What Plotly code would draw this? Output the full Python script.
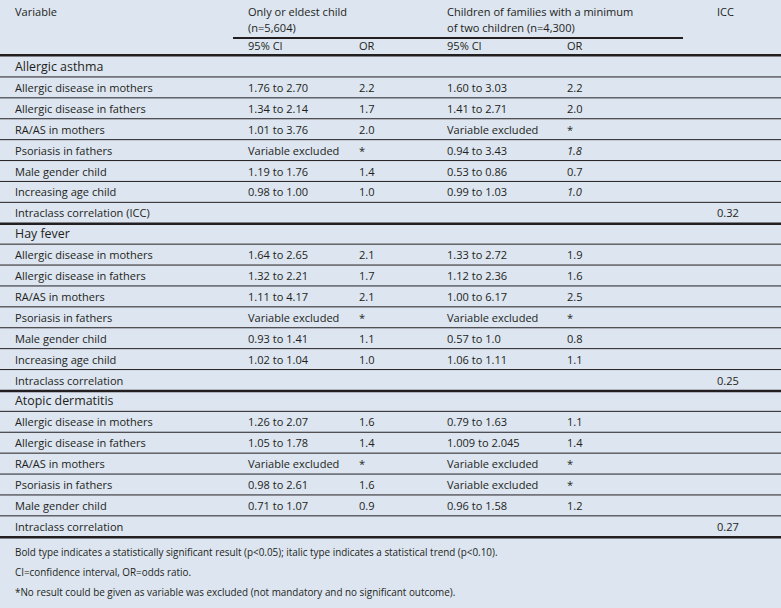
import plotly.graph_objects as go

# ---------------- data ----------------
section_titles = ["Allergic asthma", "Hay fever", "Atopic dermatitis"]

asthma_vars = ["Allergic disease in mothers", "Allergic disease in fathers", "RA/AS in mothers",
               "Psoriasis in fathers", "Male gender child", "Increasing age child"]
asthma_ci1 = ["1.76 to 2.70", "1.34 to 2.14", "1.01 to 3.76", "Variable excluded", "1.19 to 1.76", "0.98 to 1.00"]
asthma_or1 = ["2.2", "1.7", "2.0", "*", "1.4", "1.0"]
asthma_ci2 = ["1.60 to 3.03", "1.41 to 2.71", "Variable excluded", "0.94 to 3.43", "0.53 to 0.86", "0.99 to 1.03"]
asthma_or2 = ["2.2", "2.0", "*", "<i>1.8</i>", "0.7", "<i>1.0</i>"]
asthma_icc_label = "Intraclass correlation (ICC)"
asthma_icc = "0.32"

hay_vars = ["Allergic disease in mothers", "Allergic disease in fathers", "RA/AS in mothers",
            "Psoriasis in fathers", "Male gender child", "Increasing age child"]
hay_ci1 = ["1.64 to 2.65", "1.32 to 2.21", "1.11 to 4.17", "Variable excluded", "0.93 to 1.41", "1.02 to 1.04"]
hay_or1 = ["2.1", "1.7", "2.1", "*", "1.1", "1.0"]
hay_ci2 = ["1.33 to 2.72", "1.12 to 2.36", "1.00 to 6.17", "Variable excluded", "0.57 to 1.0", "1.06 to 1.11"]
hay_or2 = ["1.9", "1.6", "2.5", "*", "0.8", "1.1"]
hay_icc_label = "Intraclass correlation"
hay_icc = "0.25"

ad_vars = ["Allergic disease in mothers", "Allergic disease in fathers", "RA/AS in mothers",
           "Psoriasis in fathers", "Male gender child"]
ad_ci1 = ["1.26 to 2.07", "1.05 to 1.78", "Variable excluded", "0.98 to 2.61", "0.71 to 1.07"]
ad_or1 = ["1.6", "1.4", "*", "1.6", "0.9"]
ad_ci2 = ["0.79 to 1.63", "1.009 to 2.045", "Variable excluded", "Variable excluded", "0.96 to 1.58"]
ad_or2 = ["1.1", "1.4", "*", "*", "1.2"]
ad_icc_label = "Intraclass correlation"
ad_icc = "0.27"

header_variable = "Variable"
header_group1 = ["Only or eldest child", "(n=5,604)"]
header_group2 = ["Children of families with a minimum", "of two children (n=4,300)"]
header_icc = "ICC"
sub_ci = "95% CI"
sub_or = "OR"

footnotes = [
    "Bold type indicates a statistically significant result (p<0.05); italic type indicates a statistical trend (p<0.10).",
    "CI=confidence interval, OR=odds ratio.",
    "*No result could be given as variable was excluded (not mandatory and no significant outcome).",
]

# ---------------- styling / layout ----------------
W, H = 781, 608
BG = "#dce5f0"
INK = "#231f20"
FONT = "Open Sans"
FS = 11.05
FS_SEC = 12.4
FS_FOOT = 9.9

X_VAR, X_CI1, X_OR1, X_CI2, X_OR2, X_ICC = 13, 246, 357, 445, 565, 715
ROW0, ROWH = 66.5, 20.9

sections = [
    (section_titles[0], asthma_vars, asthma_ci1, asthma_or1, asthma_ci2, asthma_or2, asthma_icc_label, asthma_icc),
    (section_titles[1], hay_vars, hay_ci1, hay_or1, hay_ci2, hay_or2, hay_icc_label, hay_icc),
    (section_titles[2], ad_vars, ad_ci1, ad_or1, ad_ci2, ad_or2, ad_icc_label, ad_icc),
]

annotations = []
shapes = []


def txt(x, y, s, size=FS, color=INK):
    annotations.append(dict(x=x, y=y, xref="x", yref="y", text=s, showarrow=False,
                            xanchor="left", yanchor="middle",
                            font=dict(family=FONT, size=size, color=color)))


def hline(y, x0=0, x1=W, width=1.0):
    shapes.append(dict(type="line", xref="x", yref="y", x0=x0, x1=x1, y0=y, y1=y,
                       line=dict(color=INK, width=width)))


# header
txt(X_VAR, 11, header_variable)
txt(X_CI1, 11, header_group1[0])
txt(X_CI1, 27.5, header_group1[1])
txt(X_CI2, 11, header_group2[0])
txt(X_CI2, 27.5, header_group2[1])
txt(X_ICC, 11, header_icc)
hline(38, 233, 683, 2.2)
for x, s in [(X_CI1, sub_ci), (X_OR1, sub_or), (X_CI2, sub_ci), (X_OR2, sub_or)]:
    txt(x, 45.5, s)
hline(ROW0 - ROWH / 2 - 0.8, width=2.6)

row = 0
for title, vars_, ci1, or1, ci2, or2, icc_label, icc in sections:
    y = ROW0 + row * ROWH
    txt(X_VAR, y, title, size=FS_SEC)
    hline(y + ROWH / 2)
    row += 1
    for v, a, b, c, d in zip(vars_, ci1, or1, ci2, or2):
        y = ROW0 + row * ROWH
        txt(X_VAR, y, v)
        txt(X_CI1, y, a)
        txt(X_OR1, y, b)
        txt(X_CI2, y, c)
        txt(X_OR2, y, d)
        hline(y + ROWH / 2)
        row += 1
    y = ROW0 + row * ROWH
    txt(X_VAR, y, icc_label)
    txt(X_ICC, y, icc)
    hline(y + ROWH / 2 + 0.5, width=2.6)
    row += 1

y_foot0 = ROW0 + row * ROWH + 5
for i, f in enumerate(footnotes):
    txt(X_VAR, y_foot0 + i * 20, f, size=FS_FOOT)

fig = go.Figure()
fig.add_trace(go.Scatter(x=[0, W], y=[0, H], mode="markers", marker=dict(opacity=0), hoverinfo="skip",
                         showlegend=False))
fig.update_layout(
    width=W, height=H, margin=dict(l=0, r=0, t=0, b=0),
    paper_bgcolor=BG, plot_bgcolor=BG,
    xaxis=dict(range=[0, W], visible=False, fixedrange=True),
    yaxis=dict(range=[H, 0], visible=False, fixedrange=True),
    annotations=annotations, shapes=shapes, showlegend=False,
)
fig.write_html("out.html", config={"displayModeBar": False},
               post_script="document.body.style.margin='0';document.body.style.overflow='hidden';document.body.style.background='" + BG + "';")
